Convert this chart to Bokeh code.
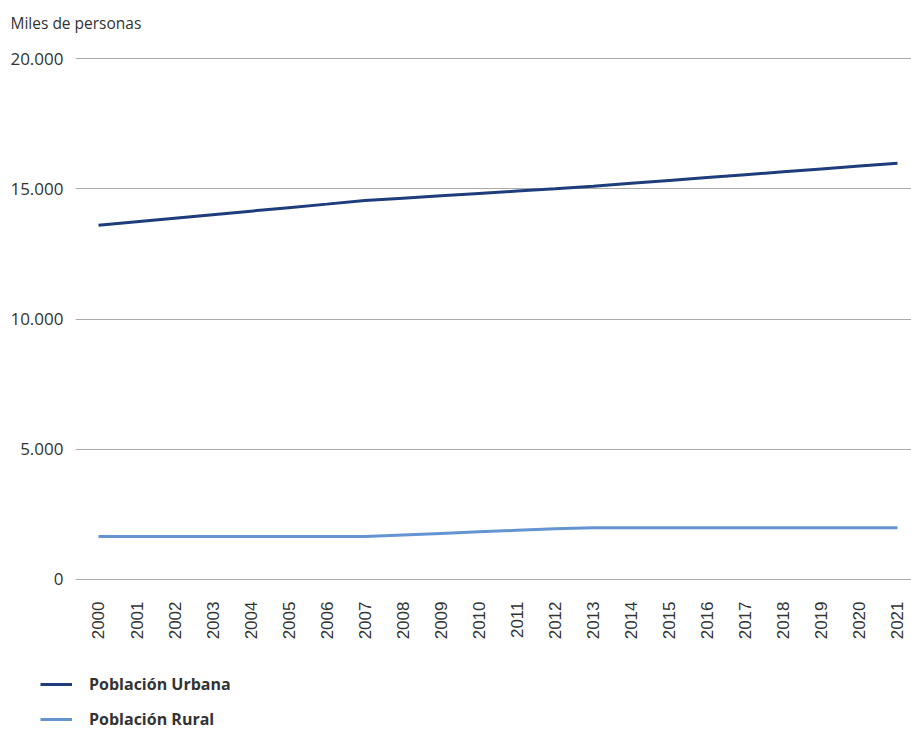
from math import pi
from bokeh.plotting import figure
from bokeh.models import Range1d, FixedTicker, Legend, LegendItem, Label
from bokeh.embed import file_html
from bokeh.resources import INLINE

years = list(range(2000, 2022))
urbana = [13600, 13735, 13870, 14005, 14140, 14275, 14410, 14550, 14640, 14730, 14820,
          14910, 15000, 15100, 15210, 15320, 15430, 15540, 15650, 15760, 15870, 15980]
rural = [1650, 1650, 1650, 1650, 1650, 1650, 1650, 1650, 1710, 1770, 1830,
         1890, 1950, 1990, 1990, 1990, 1990, 1990, 1990, 1990, 1990, 1990]
y_ticks = [0, 5000, 10000, 15000, 20000]
y_tick_labels = ["0", "5.000", "10.000", "15.000", "20.000"]
unit_label = "Miles de personas"
series_names = ["Población Urbana", "Población Rural"]

TEXT = "#333333"
C_URB = "#1f3d7c"
C_RUR = "#6495d2"


def bare(fig):
    fig.axis.visible = False
    fig.grid.visible = False
    fig.outline_line_color = None
    return fig


# title strip
pt = bare(figure(width=911, height=44, output_backend="svg", toolbar_location=None,
                 x_range=Range1d(0, 1), y_range=Range1d(0, 1),
                 min_border_left=0, min_border_right=0, min_border_top=0, min_border_bottom=0))
pt.add_layout(Label(x=10, y=22, x_units="screen", y_units="screen", text=unit_label,
                    text_font="Open Sans", text_font_size="15.5px", text_color=TEXT,
                    text_baseline="middle", text_align="left"))

# main chart
p = figure(width=911, height=606, output_backend="svg", toolbar_location=None,
           x_range=Range1d(1999.3955, 2021.368), y_range=Range1d(-77, 20077),
           min_border_left=75, min_border_right=0, min_border_top=12, min_border_bottom=69)
p.outline_line_color = None

p.line(years, urbana, line_color=C_URB, line_width=3)
p.line(years, rural, line_color=C_RUR, line_width=3)

p.xgrid.visible = False
p.ygrid.ticker = FixedTicker(ticks=y_ticks)
p.ygrid.grid_line_color = "#aaaaaa"
p.ygrid.grid_line_width = 1

xa = p.xaxis[0]
xa.ticker = FixedTicker(ticks=years)
xa.major_label_orientation = pi / 2
xa.axis_line_color = None
xa.major_tick_line_color = None
xa.minor_tick_line_color = None
xa.major_tick_out = 0
xa.major_tick_in = 0
xa.major_label_text_font = "Liberation Sans"
xa.major_label_text_font_size = "17px"
xa.major_label_text_color = TEXT
xa.major_label_standoff = 20

ya = p.yaxis[0]
ya.ticker = FixedTicker(ticks=y_ticks)
ya.major_label_overrides = {t: s for t, s in zip(y_ticks, y_tick_labels)}
ya.axis_line_color = None
ya.major_tick_line_color = None
ya.minor_tick_line_color = None
ya.major_tick_out = 0
ya.major_tick_in = 0
ya.major_label_text_font = "Open Sans"
ya.major_label_text_font_size = "17px"
ya.major_label_text_color = TEXT
ya.major_label_standoff = 12

# legend strip
pl = bare(figure(width=911, height=80, output_backend="svg", toolbar_location=None,
                 x_range=Range1d(0, 1), y_range=Range1d(0, 1),
                 min_border_left=0, min_border_right=0, min_border_top=0, min_border_bottom=0))
l1 = pl.line([-1, -2], [-1, -2], line_color=C_URB, line_width=3)
l2 = pl.line([-1, -2], [-1, -2], line_color=C_RUR, line_width=3)
legend = Legend(items=[LegendItem(label=series_names[0], renderers=[l1]),
                       LegendItem(label=series_names[1], renderers=[l2])],
                location=(40, 0), orientation="vertical",
                padding=0, margin=0, spacing=13, glyph_width=32, glyph_height=12,
                label_height=12, label_standoff=17,
                label_text_font="Open Sans", label_text_font_style="bold",
                label_text_font_size="16px", label_text_color=TEXT,
                border_line_color=None, background_fill_alpha=0)
pl.add_layout(legend)

open("out.html", "w").write(file_html([pt, p, pl], INLINE))
